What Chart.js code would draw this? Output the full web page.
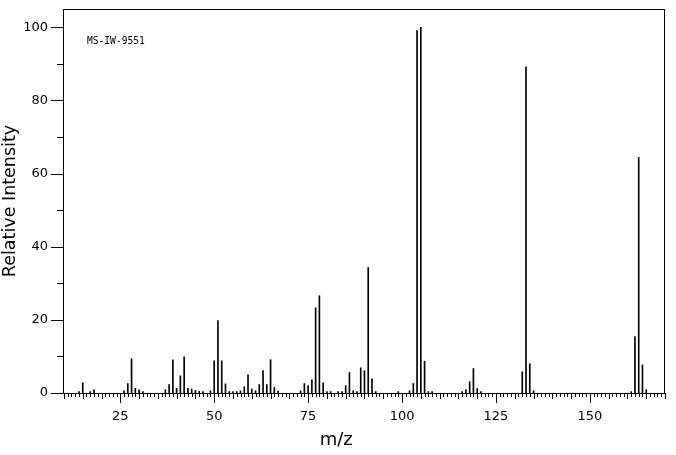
<!DOCTYPE html>
<html>
<head>
<meta charset="utf-8">
<script src="https://cdn.jsdelivr.net/npm/chart.js@4.4.0/dist/chart.umd.min.js"></script>
<style>
  html, body { margin: 0; padding: 0; background: #fff; }
  #wrap { width: 676px; height: 455px; }
</style>
</head>
<body>
<div id="wrap"><canvas id="chart" width="676" height="455"></canvas></div>
<script>
// peaks
const mzValues = [14, 15, 17, 18, 26, 27, 28, 29, 30, 31, 37, 38, 39, 40, 41, 42, 43, 44, 45, 46, 47, 49,
  50, 51, 52, 53, 54, 55, 56, 57, 58, 59, 60, 61, 62, 63, 64, 65, 66, 67, 73, 74, 75, 76, 77, 78, 79,
  80, 81, 83, 84, 85, 86, 87, 88, 89, 90, 91, 92, 93, 99, 102, 103, 104, 105, 106, 107, 108,
  116, 117, 118, 119, 120, 121, 132, 133, 134, 135, 161, 162, 163, 164, 165];
const intensities = [0.4, 2.8, 0.4, 0.9, 0.6, 2.6, 9.4, 1.3, 0.9, 0.4, 0.9, 2.3, 9.1, 1.3, 4.7, 9.9, 1.3, 1.1, 0.7, 0.5, 0.4, 0.6,
  8.8, 19.8, 8.8, 2.5, 0.4, 0.4, 0.4, 0.6, 1.7, 5.0, 1.1, 0.6, 2.3, 6.1, 2.3, 9.1, 1.5, 0.5, 0.6, 2.6, 2.0, 3.6, 23.3, 26.6, 2.8,
  0.4, 0.4, 0.4, 0.4, 2.0, 5.6, 0.6, 0.4, 6.9, 6.1, 34.3, 3.9, 0.4, 0.4, 0.6, 2.6, 99.1, 100, 8.7, 0.4, 0.4,
  0.4, 0.9, 3.1, 6.7, 1.2, 0.4, 5.8, 89.2, 8.0, 0.6, 0.4, 15.4, 64.4, 7.7, 0.9];

const xTickLabels = [25, 50, 75, 100, 125, 150];
const yTickLabels = [0, 20, 40, 60, 80, 100];
const spectrumId = 'MS-IW-9551';
const xTitle = 'm/z';

const ctx = document.getElementById('chart').getContext('2d');

// frame, tick marks, x title and the id label
const framePlugin = {
    id: 'frame',
    afterDatasetsDraw(chart) {
        const c = chart.ctx;
        const a = chart.chartArea;
        const xs = chart.scales.x;
        const ys = chart.scales.y;
        c.save();
        c.strokeStyle = '#000';
        c.lineWidth = 1;
        c.strokeRect(Math.round(a.left) + 0.5, Math.round(a.top) + 0.5,
            Math.round(a.right - a.left) - 1, Math.round(a.bottom - a.top));
        c.beginPath();
        // x ticks every unit
        for (let v = Math.ceil(xs.min); v <= xs.max; v++) {
            const px = Math.round(xs.getPixelForValue(v)) + 0.5;
            let len = 4;
            if (v % 25 === 0) len = 10;
            else if (v % 5 === 0) len = 6;
            c.moveTo(px, a.bottom);
            c.lineTo(px, a.bottom + len);
        }
        // y ticks every 10
        for (let v = 0; v <= ys.max; v += 10) {
            const py = Math.round(ys.getPixelForValue(v)) + 0.5;
            const len = v % 20 === 0 ? 12 : 6;
            c.moveTo(a.left, py);
            c.lineTo(a.left - len, py);
        }
        c.stroke();
        c.fillStyle = '#000';
        c.font = '9.6px "DejaVu Sans Mono"';
        c.textBaseline = 'middle';
        c.fillText(spectrumId, a.left + 24, a.top + 32);
        // x title sits a bit left of centre in the original
        c.font = '18px "DejaVu Sans"';
        c.textAlign = 'center';
        c.fillText(xTitle, xs.getPixelForValue(82.5), a.bottom + 47);
        c.restore();
    }
};

const chart = new Chart(ctx, {
    type: 'bar',
    data: {
        datasets: [{
            data: mzValues.map((m, i) => ({ x: m, y: intensities[i] })),
            backgroundColor: '#000',
            borderWidth: 0,
            barThickness: 1
        }]
    },
    options: {
        responsive: false,
        animation: false,
        layout: { padding: { top: 9, right: 11, left: 0, bottom: 0 } },
        plugins: { legend: { display: false }, tooltip: { enabled: false } },
        scales: {
            x: {
                type: 'linear',
                offset: false,
                min: 9.75,
                max: 170,
                afterBuildTicks: s => { s.ticks = xTickLabels.map(v => ({ value: v })); },
                afterFit: s => { s.height = 62; s.paddingLeft = 0; s.paddingRight = 0; },
                grid: { display: false, drawTicks: false },
                border: { display: false },
                ticks: { padding: 16, color: '#000', font: { family: 'DejaVu Sans', size: 13 } }
            },
            y: {
                min: 0,
                max: 105,
                afterBuildTicks: s => { s.ticks = yTickLabels.map(v => ({ value: v })); },
                afterFit: s => { s.width = 63; s.paddingTop = 0; s.paddingBottom = 0; },
                grid: { display: false, drawTicks: false },
                border: { display: false },
                ticks: { padding: 15, color: '#000', font: { family: 'DejaVu Sans', size: 13 } },
                title: { display: true, text: 'Relative Intensity', color: '#000', padding: 0,
                    font: { family: 'DejaVu Sans', size: 17.5 } }
            }
        }
    },
    plugins: [framePlugin]
});
</script>
</body>
</html>
